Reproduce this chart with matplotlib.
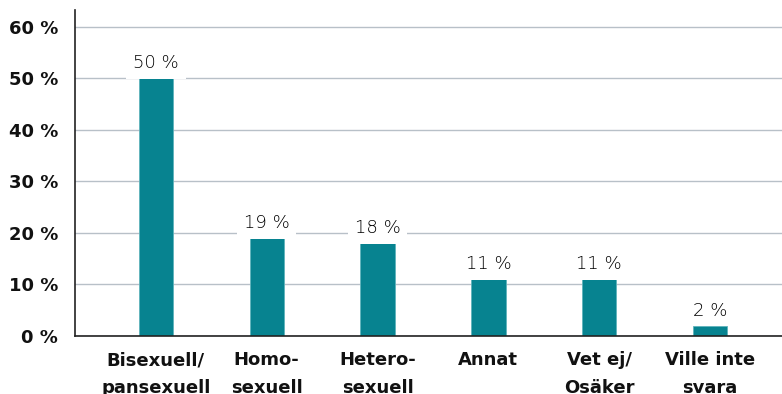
import matplotlib
matplotlib.use("Agg")
import matplotlib.pyplot as plt

categories = ["Bisexuell/\npansexuell", "Homo-\nsexuell", "Hetero-\nsexuell",
              "Annat", "Vet ej/\nOsäker", "Ville inte\nsvara"]
values = [50, 19, 18, 11, 11, 2]
yticks = [0, 10, 20, 30, 40, 50, 60]
ytick_labels = ["0 %", "10 %", "20 %", "30 %", "40 %", "50 %", "60 %"]

bar_color = "#078390"
grid_color = "#b8c0c8"

plt.rcParams["font.family"] = ["DejaVu Sans"]

fig = plt.figure(figsize=(7.82, 3.94), dpi=100)
ax = fig.add_axes([75 / 782, 58 / 394, 1 - 75 / 782, (336 - 10) / 394])

x = range(len(categories))
ax.bar(x, values, width=0.31, color=bar_color, edgecolor="#5fb3bc",
       linewidth=0.6, zorder=2)

for xi, v in zip(x, values):
    ax.text(xi, v + 1.2, f"{v} %", ha="center", va="bottom", fontsize=13,
            fontweight="light", color="#000000", zorder=3,
            bbox=dict(facecolor="white", edgecolor="none", pad=5))

ax.set_xlim(-0.73, 5.65)
ax.set_ylim(0, 63.3)
ax.set_yticks(yticks)
ax.set_yticklabels(ytick_labels, fontsize=13, fontweight="bold", color="#111111")
ax.set_xticks(list(x))
ax.set_xticklabels(categories, fontsize=13, fontweight="bold", color="#111111",
                   linespacing=1.7)
ax.tick_params(axis="both", length=0)
ax.tick_params(axis="y", pad=12)
ax.tick_params(axis="x", pad=11)

ax.yaxis.grid(True, color=grid_color, linewidth=1.0, zorder=0)
ax.set_axisbelow(True)
for side in ["top", "right"]:
    ax.spines[side].set_visible(False)
ax.spines["left"].set_color("#222222")
ax.spines["bottom"].set_color("#222222")
ax.spines["left"].set_linewidth(1.2)
ax.spines["bottom"].set_linewidth(1.2)

fig.savefig("out.png", dpi=100)
